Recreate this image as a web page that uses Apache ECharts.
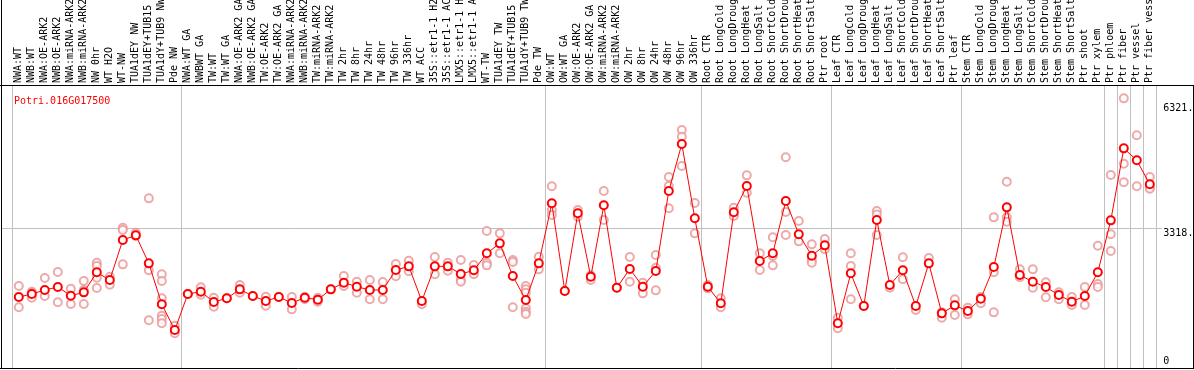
<!DOCTYPE html>
<html><head><meta charset="utf-8">
<script src="https://cdn.jsdelivr.net/npm/echarts@6/dist/echarts.min.js"></script>
<style>html,body{margin:0;padding:0;background:#fff}#c{width:1194px;height:370px}</style>
</head><body><div id="c"></div>
<script>
const title = 'Potri.016G017500';
const categories = [
  'NWA:WT','NWB:WT','NWA:OE-ARK2','NWB:OE-ARK2','NWA:miRNA-ARK2','NWB:miRNA-ARK2','NW 0hr','WT H2O','WT-NW','TUA1dEY NW','TUA1dEY+TUB15 NW','TUA1dY+TUB9 NW','Pde NW',
  'NWA:WT GA','NWBWT GA','TW:WT','TW:WT GA','NWA:OE-ARK2 GA','NWB:OE-ARK2 GA','TW:OE-ARK2','TW:OE-ARK2 GA','NWA:miRNA-ARK2 GA','NWB:miRNA-ARK2 GA','TW:miRNA-ARK2','TW:miRNA-ARK2 GA','TW 2hr','TW 8hr','TW 24hr','TW 48hr','TW 96hr','TW 336hr','WT ACC','35S::etr1-1 H2O','35S::etr1-1 ACC','LMX5::etr1-1 H2O','LMX5::etr1-1 ACC','WT-TW','TUA1dEY TW','TUA1dEY+TUB15 TW','TUA1dY+TUB9 TW','Pde TW',
  'OW:WT','OW:WT GA','OW:OE-ARK2','OW:OE-ARK2 GA','OW:miRNA-ARK2','OW:miRNA-ARK2 GA','OW 2hr','OW 8hr','OW 24hr','OW 48hr','OW 96hr','OW 336hr',
  'Root CTR','Root LongCold','Root LongDrought','Root LongHeat','Root LongSalt','Root ShortCold','Root ShortDrought','Root ShortHeat','Root ShortSalt','Ptr root',
  'Leaf CTR','Leaf LongCold','Leaf LongDrought','Leaf LongHeat','Leaf LongSalt','Leaf ShortCold','Leaf ShortDrought','Leaf ShortHeat','Leaf ShortSalt','Ptr leaf',
  'Stem CTR','Stem LongCold','Stem LongDrought','Stem LongHeat','Stem LongSalt','Stem ShortCold','Stem ShortDrought','Stem ShortHeat','Stem ShortSalt','Ptr shoot','Ptr xylem',
  'Ptr phloem','Ptr fiber','Ptr vessel','Ptr fiber vessel'
];
const means = [
  1659,1731,1827,1899,1691,1771,2252,2067,3029,3141,2468,1483,865,
  1731,1787,1539,1627,1843,1683,1563,1659,1515,1643,1595,1843,2003,1907,1827,1827,2308,2396,1563,2396,2396,2212,2300,2709,2949,2164,1587,2468,
  3911,1803,3671,2148,3863,1883,2332,1907,2284,4207,5337,3551,
  1907,1507,3695,4327,2524,2709,3967,3166,2652,2901,
  1026,2228,1442,3510,1947,2300,1442,2468,1266,1458,
  1322,1619,2380,3814,2188,2027,1899,1707,1546,1683,2252,
  3502,5233,4945,4368
];
const replicates = [
  [1923,1411],[1787,1643,1763],[2115,1683],[2260,1531],[1859,1491],[2043,1491,1827],[2484,2404,2124,1875],[2148,1955],[3325,3269,2444],[3205,3125],[4031,2300,1098],[2204,2043,1627,1210,1130,1026],[970,786],
  [1731],[1891,1715],[1643,1427],[1627],[1947,1763],[1683],[1667,1451],[1659],[1659,1362],[1667,1603],[1643,1547],[1843],[2164,1923],[2027,1763],[2067,1603],[2019,1603],[2452,2156],[2532,2276],[1483],[2620,2204],[2484,2292],[2548,2067,2027],[2428,2204],[3245,2484,2420],[3189,2709],[2548,2500,1411],[1923,1843,1763,1387,1306,1250],[2628,2324],
  [4320,3750,3630],[1803],[3750,3589],[2180,2067],[4207,3510],[1883],[2620,2027],[2003,1747],[2668,2364,1819],[4544,4327,3791],[5673,5513,4808],[3918,3189],
  [1947,1867],[1627,1411],[3806,3606],[4584,4167],[2709,2308],[3094,2644,2420],[5017,3702,3149],[3486,2997],[2925,2548,2484],[3053,2805],
  [1162,906],[2709,2404,1603],[1442],[3726,3640,3149],[1883],[2613,2084],[1346],[2596],[1290,1162],[1603,1226],
  [1403,1242],[1660,1507],[3574,2252,1290],[4431,3574,3470],[2324,2132],[2324,1883],[2012,1651],[1771,1603],[1659,1466],[1899,1466],[2892,1971,1899],
  [4591,3166,2765],[6435,4864,4416],[5546,4320],[4544,4287,4260]
];
const groupStarts = [0, 13, 41, 53, 63, 73, 84, 85, 86, 87];
const yTickLabels = [3318, 6321];
const yZeroLabel = [0];
const yGridValue = 3318;
const yMin = -48, yMax = 6756;

const repPoints = [];
replicates.forEach(function (arr, i) { arr.forEach(function (v) { repPoints.push([i, v]); }); });

const mono = 'DejaVu Sans Mono';
const chart = echarts.init(document.getElementById('c'), null, {renderer: 'canvas'});
const isStart = function (i) { return groupStarts.indexOf(i) >= 0; };
chart.setOption({
  animation: false,
  backgroundColor: '#ffffff',
  title: {text: title, left: 9, top: 91, textStyle: {fontFamily: mono, fontSize: 10, fontWeight: 'normal', color: '#ff0000'}},
  grid: {left: 12.3, right: 37.7, top: 85, bottom: 2, containLabel: false, outerBoundsMode: 'none'},
  xAxis: {
    type: 'category', position: 'top', data: categories, boundaryGap: true,
    axisLine: {show: false},
    axisTick: {show: true, length: 85, interval: isStart, lineStyle: {color: '#c0c0c0', width: 1}},
    axisLabel: {interval: 0, rotate: 90, margin: 2, fontFamily: mono, fontSize: 10, color: '#000'},
    splitLine: {show: true, interval: isStart, lineStyle: {color: '#c0c0c0', width: 1}}
  },
  yAxis: [
    {type: 'value', position: 'right', min: yMin, max: yMax,
     axisLine: {show: false}, axisTick: {show: false}, splitLine: {show: false},
     axisLabel: {customValues: yTickLabels, formatter: function (v) { return v + '.'; }, align: 'left', verticalAlign: 'top', margin: 7, fontFamily: mono, fontSize: 10, color: '#000'}},
    {type: 'value', position: 'right', min: yMin, max: yMax,
     axisLine: {show: false}, axisTick: {show: false}, splitLine: {show: false},
     axisLabel: {customValues: yZeroLabel, formatter: function (v) { return String(v); }, align: 'left', verticalAlign: 'bottom', margin: 7, fontFamily: mono, fontSize: 10, color: '#000'}}
  ],
  series: [
    {type: 'scatter', data: repPoints, symbol: 'emptyCircle', symbolSize: 8, silent: true, z: 2,
     itemStyle: {color: '#e89595', borderColor: '#e89595', borderWidth: 1.2}},
    {type: 'line', data: means, symbol: 'emptyCircle', symbolSize: 8, showAllSymbol: true, silent: true, z: 3,
     lineStyle: {color: '#ff0000', width: 1}, itemStyle: {color: '#ff0000', borderColor: '#ff0000', borderWidth: 1.6}}
  ]
});

const yg = Math.round(chart.convertToPixel({yAxisIndex: 0}, yGridValue)) + 0.5;
const yTop = Math.round(chart.convertToPixel({yAxisIndex: 0}, yMax)) + 0.5;
const yBot = Math.round(chart.convertToPixel({yAxisIndex: 0}, yMin)) - 0.5;
const W = 1194;
chart.setOption({
  graphic: [
    {type: 'line', z: 0, silent: true, shape: {x1: 1, y1: yg, x2: 1162, y2: yg}, style: {stroke: '#c0c0c0', lineWidth: 1}},
    {type: 'line', z: 10, silent: true, shape: {x1: 0, y1: yTop, x2: W, y2: yTop}, style: {stroke: '#000', lineWidth: 1}},
    {type: 'line', z: 10, silent: true, shape: {x1: 0, y1: yBot + 1, x2: W, y2: yBot + 1}, style: {stroke: '#000', lineWidth: 1}},
    {type: 'line', z: 10, silent: true, shape: {x1: 1.5, y1: 0, x2: 1.5, y2: yBot + 1}, style: {stroke: '#000', lineWidth: 1}},
    {type: 'line', z: 10, silent: true, shape: {x1: W - 0.5, y1: yTop, x2: W - 0.5, y2: yBot + 1}, style: {stroke: '#000', lineWidth: 1}}
  ]
});
</script>
</body></html>
